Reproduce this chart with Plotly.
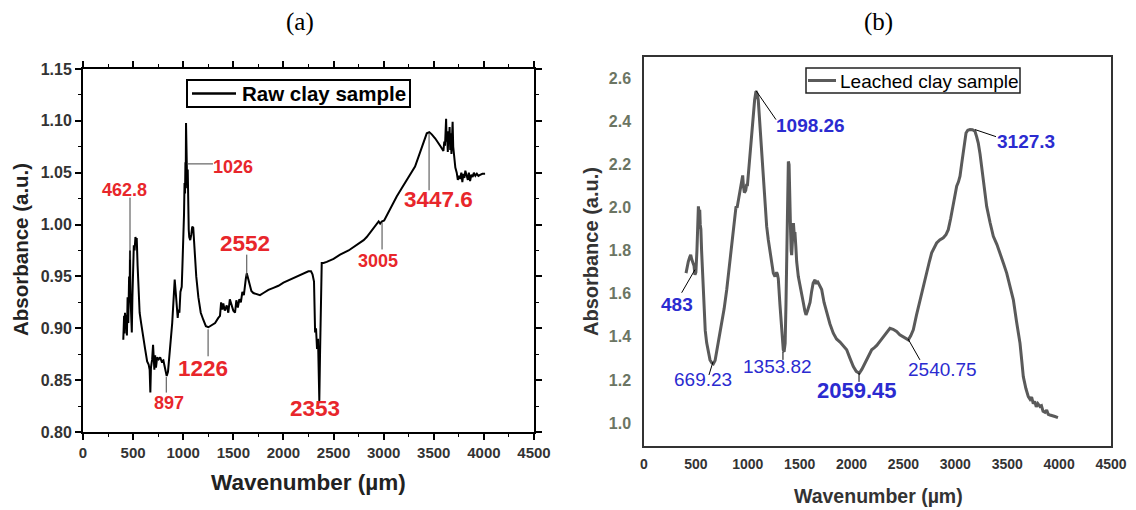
import plotly.graph_objects as go

# ---------------- data: (a) raw clay ----------------
raw_wn = [402, 410, 415, 419, 425, 432, 438, 445, 452, 460, 465, 469, 474, 480, 487, 493, 500, 507, 515, 523, 530, 536,
          545, 555, 565, 580, 599, 620, 640, 655, 665, 672, 678, 690, 699, 705, 712, 720, 728, 740, 755, 770, 785, 802,
          815, 825, 835, 848, 860, 875, 890, 905, 915, 925, 935, 945, 952, 962, 972, 985, 992, 1001, 1008, 1013, 1018,
          1022, 1025, 1028, 1032, 1036, 1040, 1045, 1050, 1055, 1060, 1070, 1080, 1090, 1100, 1108, 1118, 1130, 1151,
          1175, 1201, 1226, 1251, 1285, 1318, 1350, 1367, 1378, 1390, 1400, 1415, 1434, 1450, 1465, 1484, 1500, 1517,
          1530, 1545, 1560, 1575, 1590, 1605, 1617, 1625, 1634, 1642, 1650, 1665, 1680, 1700, 1730, 1766, 1800, 1850,
          1900, 1950, 2000, 2066, 2150, 2249, 2275, 2290, 2305, 2316, 2325, 2335, 2345, 2352, 2358, 2365, 2375, 2382,
          2400, 2432, 2500, 2565, 2650, 2731, 2800, 2831, 2880, 2931, 2950, 2965, 2981, 3005, 3031, 3080, 3130, 3180,
          3230, 3280, 3313, 3350, 3380, 3405, 3430, 3455, 3480, 3515, 3546, 3570, 3596, 3605, 3612, 3618, 3623, 3628,
          3634, 3640, 3646, 3652, 3658, 3664, 3670, 3676, 3682, 3688, 3694, 3705, 3715, 3729, 3740, 3750, 3762, 3775,
          3785, 3795, 3805, 3815, 3829, 3840, 3850, 3862, 3875, 3888, 3900, 3915, 3930, 3945, 3962, 3985, 4012]
raw_abs = [0.889, 0.912, 0.895, 0.915, 0.900, 0.913, 0.893, 0.930, 0.905, 0.950, 0.925, 0.975, 0.930, 0.900, 0.896,
           0.930, 0.965, 0.980, 0.975, 0.988, 0.985, 0.987, 0.960, 0.930, 0.915, 0.905, 0.895, 0.880, 0.868, 0.865,
           0.860, 0.838, 0.862, 0.870, 0.884, 0.870, 0.860, 0.874, 0.862, 0.872, 0.870, 0.872, 0.868, 0.869, 0.862,
           0.856, 0.854, 0.858, 0.870, 0.885, 0.905, 0.930, 0.947, 0.935, 0.915, 0.910, 0.918, 0.915, 0.935, 0.940,
           0.960, 0.982, 1.010, 1.040, 1.030, 1.060, 1.045, 1.098, 1.060, 1.075, 1.035, 1.053, 1.010, 0.995, 0.988,
           0.985, 0.990, 0.998, 0.997, 0.985, 0.966, 0.950, 0.930, 0.915, 0.908, 0.902, 0.901, 0.903, 0.905, 0.910,
           0.912, 0.925, 0.918, 0.924, 0.917, 0.922, 0.915, 0.928, 0.922, 0.917, 0.915, 0.927, 0.920, 0.928, 0.925,
           0.935, 0.932, 0.944, 0.948, 0.953, 0.950, 0.945, 0.940, 0.936, 0.934, 0.933, 0.932, 0.934, 0.937, 0.939,
           0.941, 0.944, 0.947, 0.951, 0.955, 0.955, 0.952, 0.945, 0.896, 0.900, 0.880, 0.890, 0.833, 0.830, 0.875,
           0.960, 0.963, 0.963, 0.964, 0.967, 0.971, 0.975, 0.980, 0.985, 0.988, 0.994, 1.001, 1.003, 1.001, 1.003,
           1.004, 1.009, 1.017, 1.027, 1.035, 1.043, 1.050, 1.056, 1.066, 1.075, 1.082, 1.088, 1.089, 1.087, 1.083,
           1.079, 1.075, 1.071, 1.080, 1.076, 1.092, 1.102, 1.080, 1.085, 1.070, 1.090, 1.080, 1.094, 1.072, 1.088,
           1.068, 1.085, 1.099, 1.075, 1.065, 1.055, 1.050, 1.043, 1.047, 1.044, 1.050, 1.041, 1.049, 1.045, 1.052,
           1.047, 1.043, 1.050, 1.042, 1.048, 1.046, 1.050, 1.047, 1.049, 1.047, 1.048, 1.049, 1.049]

# ---------------- data: (b) leached clay ----------------
lea_wn = [405, 415, 427, 440, 450, 460, 470, 482, 491, 500, 510, 518, 524, 530, 537, 542, 548, 555, 565, 578, 590, 604,
          620, 636, 652, 668, 685, 700, 725, 748, 772, 797, 820, 845, 866, 887, 897, 908, 920, 932, 940, 951, 958, 967,
          980, 990, 996, 1008, 1021, 1037, 1054, 1066, 1079, 1090, 1101, 1112, 1124, 1137, 1150, 1166, 1182, 1198,
          1214, 1230, 1246, 1262, 1278, 1286, 1294, 1310, 1327, 1342, 1350, 1360, 1368, 1375, 1383, 1391, 1398, 1405,
          1412, 1418, 1423, 1432, 1440, 1447, 1455, 1463, 1471, 1487, 1503, 1520, 1535, 1550, 1561, 1575, 1590, 1600,
          1615, 1630, 1648, 1660, 1670, 1680, 1695, 1712, 1735, 1760, 1792, 1824, 1855, 1889, 1920, 1953, 1985, 2017,
          2045, 2075, 2100, 2131, 2160, 2194, 2220, 2243, 2275, 2306, 2340, 2370, 2400, 2434, 2465, 2499, 2530, 2547,
          2570, 2595, 2625, 2659, 2690, 2723, 2750, 2772, 2800, 2820, 2850, 2884, 2910, 2932, 2955, 2980, 3000, 3013,
          3030, 3045, 3060, 3077, 3090, 3103, 3120, 3141, 3165, 3189, 3205, 3221, 3238, 3254, 3278, 3302, 3335, 3366,
          3400, 3431, 3465, 3495, 3525, 3559, 3590, 3623, 3640, 3655, 3680, 3703, 3720, 3735, 3751, 3765, 3780, 3795,
          3816, 3830, 3845, 3864, 3880, 3895, 3912, 3935, 3960, 3989]
lea_abs = [1.696, 1.73, 1.75, 1.77, 1.781, 1.76, 1.74, 1.73, 1.688, 1.70, 1.80, 1.95, 2.006, 1.98, 1.99, 1.92, 1.90,
           1.80, 1.698, 1.511, 1.43, 1.372, 1.33, 1.293, 1.28, 1.275, 1.29, 1.33, 1.39, 1.448, 1.53, 1.619, 1.72,
           1.836, 1.93, 2.006, 2.00, 2.03, 2.06, 2.10, 2.13, 2.15, 2.10, 2.07, 2.08, 2.11, 2.10, 2.17, 2.256, 2.36,
           2.456, 2.50, 2.541, 2.53, 2.50, 2.42, 2.316, 2.22, 2.13, 2.02, 1.913, 1.85, 1.79, 1.74, 1.696, 1.68, 1.70,
           1.69, 1.67, 1.55, 1.433, 1.34, 1.33, 1.37, 1.55, 1.743, 2.00, 2.215, 2.20, 2.10, 1.90, 1.80, 1.78, 1.86,
           1.929, 1.88, 1.88, 1.82, 1.75, 1.68, 1.634, 1.59, 1.56, 1.52, 1.502, 1.52, 1.55, 1.56, 1.61, 1.65, 1.665,
           1.645, 1.66, 1.65, 1.64, 1.62, 1.56, 1.51, 1.46, 1.417, 1.39, 1.376, 1.36, 1.34, 1.30, 1.262, 1.24, 1.231,
           1.25, 1.28, 1.31, 1.34, 1.35, 1.36, 1.38, 1.401, 1.425, 1.44, 1.435, 1.425, 1.41, 1.401, 1.39, 1.386,
           1.405, 1.433, 1.50, 1.572, 1.635, 1.697, 1.75, 1.79, 1.82, 1.836, 1.85, 1.86, 1.875, 1.898, 1.95, 2.022,
           2.07, 2.10, 2.12, 2.146, 2.20, 2.254, 2.31, 2.347, 2.36, 2.363, 2.362, 2.355, 2.33, 2.30, 2.25, 2.192,
           2.10, 2.006, 1.93, 1.867, 1.83, 1.79, 1.74, 1.696, 1.64, 1.572, 1.47, 1.371, 1.29, 1.215, 1.16, 1.122,
           1.11, 1.12, 1.09, 1.10, 1.075, 1.09, 1.076, 1.08, 1.055, 1.05, 1.06, 1.04, 1.037, 1.035, 1.03, 1.025]

# peak labels: (text, label x, label y, leader x0, y0, x1, y1, size, bold)
raw_labels = [("462.8", 419, 1.0334, 469, 1.026, 469, 0.966, 18, True),
              ("1026", 1497, 1.0559, 1038, 1.0585, 1297, 1.0585, 18, True),
              ("2552", 1617, 0.982, 1634, 0.971, 1634, 0.950, 22.5, True),
              ("1226", 1198, 0.8616, 1248, 0.899, 1248, 0.873, 22.5, True),
              ("897", 858, 0.828, 831, 0.853, 831, 0.838, 18, True),
              ("2353", 2315, 0.823, None, None, None, None, 22.5, True),
              ("3005", 2944, 0.9647, 2984, 1.002, 2984, 0.976, 18, True),
              ("3447.6", 3543, 1.024, 3453, 1.088, 3453, 1.033, 22.5, True)]
lea_labels = [("1098.26", 1609, 2.381, 1079, 2.544, 1272, 2.409, 19, True),
              ("3127.3", 3681, 2.308, 3189, 2.363, 3392, 2.330, 19, True),
              ("483", 315, 1.549, 491, 1.712, 363, 1.605, 19, True),
              ("669.23", 569, 1.200, 665, 1.284, 626, 1.223, 19, False),
              ("1353.82", 1291, 1.260, 1339, 1.330, 1339, 1.293, 19, False),
              ("2059.45", 2057, 1.153, 2072, 1.233, 2072, 1.191, 22, True),
              ("2540.75", 2881, 1.247, 2544, 1.391, 2659, 1.293, 19, False)]

W, H = 1136, 510
SANS = "Liberation Sans"

fig = go.Figure()
fig.add_trace(go.Scatter(x=raw_wn, y=raw_abs, mode="lines", name="Raw clay sample",
                         line=dict(color="black", width=2), xaxis="x", yaxis="y", showlegend=False))
fig.add_trace(go.Scatter(x=lea_wn, y=lea_abs, mode="lines", name="Leached clay sample",
                         line=dict(color="#5a5a5a", width=3), xaxis="x2", yaxis="y2", showlegend=False))

ann = []
shapes = []
for t, lx, ly, x0, y0, x1, y1, fs, b in raw_labels:
    ann.append(dict(x=lx, y=ly, xref="x", yref="y", text=t, showarrow=False,
                    xanchor="center", yanchor="middle",
                    font=dict(family=SANS, size=fs, color="#e8262b", weight="bold" if b else "normal")))
    if x0 is not None:
        shapes.append(dict(type="line", xref="x", yref="y", x0=x0, y0=y0, x1=x1, y1=y1,
                           line=dict(color="#444", width=1)))
for t, lx, ly, x0, y0, x1, y1, fs, b in lea_labels:
    ann.append(dict(x=lx, y=ly, xref="x2", yref="y2", text=t, showarrow=False,
                    xanchor="center", yanchor="middle",
                    font=dict(family=SANS, size=fs, color="#2b2bd0", weight="bold" if b else "normal")))
    shapes.append(dict(type="line", xref="x2", yref="y2", x0=x0, y0=y0, x1=x1, y1=y1,
                       line=dict(color="black", width=1)))


def px(x):
    return x / W


def py(y):
    return 1 - y / H


# manual legends (boxes, line samples, labels)
shapes += [
    dict(type="rect", xref="paper", yref="paper", x0=px(187), x1=px(410), y0=py(107), y1=py(80),
         line=dict(color="black", width=2), fillcolor="white", layer="above"),
    dict(type="line", xref="paper", yref="paper", x0=px(192), x1=px(236), y0=py(93.5), y1=py(93.5),
         line=dict(color="black", width=2.5)),
    dict(type="rect", xref="paper", yref="paper", x0=px(806), x1=px(1020), y0=py(93), y1=py(68),
         line=dict(color="#222", width=1.5), fillcolor="white", layer="above"),
    dict(type="line", xref="paper", yref="paper", x0=px(808), x1=px(836), y0=py(80.5), y1=py(80.5),
         line=dict(color="#5a5a5a", width=3)),
]
ann += [
    dict(x=px(240), y=py(93.5), xref="paper", yref="paper", xanchor="left", yanchor="middle",
         text="Raw clay sample", showarrow=False,
         font=dict(family=SANS, size=20.5, color="black", weight="bold")),
    dict(x=px(838), y=py(81), xref="paper", yref="paper", xanchor="left", yanchor="middle",
         text="Leached clay sample", showarrow=False,
         font=dict(family=SANS, size=19, color="black")),
]

# titles
def centered(x, y, text, size, color="#222", family=SANS, weight="bold", angle=0):
    return dict(x=px(x), y=py(y), xref="paper", yref="paper", xanchor="center", yanchor="middle",
                text=text, showarrow=False, textangle=angle,
                font=dict(family=family, size=size, color=color, weight=weight))


ann += [
    centered(300, 22, "(a)", 25, "black", "Liberation Serif", "normal"),
    centered(878, 22, "(b)", 25, "black", "Liberation Serif", "normal"),
    centered(20, 250, "Absorbance (a.u.)", 20.5, angle=-90),
    centered(308, 482, "Wavenumber (µm)", 22.5),
    centered(591, 251, "Absorbance (a.u.)", 20, "#333", angle=-90),
    centered(878, 496, "Wavenumber (µm)", 19.5, "#333"),
]

fig.update_layout(
    width=W, height=H, margin=dict(l=0, r=0, t=0, b=0, autoexpand=False),
    paper_bgcolor="white", plot_bgcolor="white",
    xaxis=dict(domain=[px(83), px(534)], range=[0, 4500], dtick=500, anchor="y", automargin=False,
               showline=True, linecolor="black", linewidth=2, mirror="ticks",
               ticks="outside", ticklen=6, tickwidth=1.5, tickcolor="black",
               minor=dict(ticks="outside", ticklen=3, tickwidth=1.2, dtick=250, tickcolor="black"),
               showgrid=False, zeroline=False,
               tickfont=dict(family=SANS, size=15, color="#333", weight="bold")),
    yaxis=dict(domain=[py(432), py(69)], range=[0.80, 1.15], dtick=0.05, tickformat=".2f", anchor="x",
               automargin=False,
               showline=True, linecolor="black", linewidth=2, mirror="ticks",
               ticks="outside", ticklen=6, tickwidth=1.5, tickcolor="black",
               minor=dict(ticks="outside", ticklen=3, tickwidth=1.2, dtick=0.025, tickcolor="black"),
               showgrid=False, zeroline=False,
               tickfont=dict(family=SANS, size=16, color="#333", weight="bold")),
    xaxis2=dict(domain=[px(644), px(1111)], range=[0, 4500], dtick=500, anchor="y2", automargin=False,
                showline=True, linecolor="#333", linewidth=1.5, mirror=True, ticks="",
                showgrid=False, zeroline=False, ticklabelstandoff=4,
                tickfont=dict(family=SANS, size=14, color="#333", weight="bold")),
    yaxis2=dict(domain=[py(446), py(57)], range=[0.893, 2.70], dtick=0.2, tickformat=".1f", anchor="x2",
                automargin=False,
                showline=True, linecolor="#333", linewidth=1.5, mirror=True, ticks="",
                showgrid=False, zeroline=False, ticklabelstandoff=8,
                tickfont=dict(family=SANS, size=16, color="#6b7563", weight="bold")),
    showlegend=False,
    annotations=ann, shapes=shapes,
)

fig.write_html("out.html")
